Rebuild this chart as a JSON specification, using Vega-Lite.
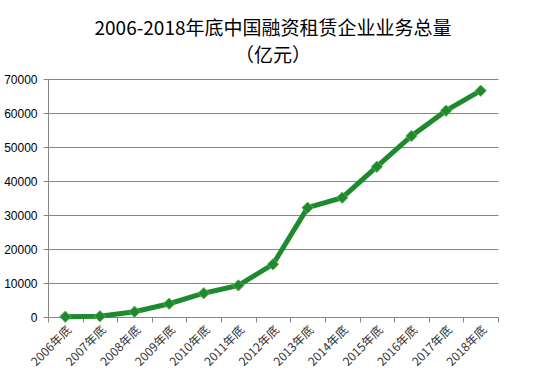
{
  "$schema": "https://vega.github.io/schema/vega-lite/v6.json",
  "width": 450,
  "height": 238,
  "autosize": "none",
  "padding": {"left": 48, "top": 79, "right": 43, "bottom": 64},
  "background": "white",
  "title": {
    "text": ["2006-2018年底中国融资租赁企业业务总量", "（亿元）"],
    "font": "Noto Sans CJK SC",
    "fontSize": 19,
    "fontWeight": "normal",
    "color": "#000000",
    "lineHeight": 27,
    "anchor": "middle",
    "offset": 7
  },
  "data": {
    "values": [
      {"year": "2006年底", "value": 80},
      {"year": "2007年底", "value": 240},
      {"year": "2008年底", "value": 1550},
      {"year": "2009年底", "value": 3900},
      {"year": "2010年底", "value": 7000},
      {"year": "2011年底", "value": 9300},
      {"year": "2012年底", "value": 15500},
      {"year": "2013年底", "value": 32150},
      {"year": "2014年底", "value": 35090},
      {"year": "2015年底", "value": 44200},
      {"year": "2016年底", "value": 53240},
      {"year": "2017年底", "value": 60680},
      {"year": "2018年底", "value": 66560}
    ]
  },
  "encoding": {
    "x": {
      "field": "year",
      "type": "nominal",
      "sort": null,
      "scale": {"type": "band", "paddingInner": 0, "paddingOuter": 0},
      "axis": {
        "title": null,
        "labelAngle": -45,
        "labelFont": "Noto Sans CJK SC",
        "labelFontSize": 12,
        "labelColor": "#333333",
        "tickBand": "extent",
        "tickColor": "#868686",
        "tickSize": 5,
        "domainColor": "#868686",
        "labelPadding": 2,
        "grid": false
      }
    },
    "y": {
      "field": "value",
      "type": "quantitative",
      "scale": {"domain": [0, 70000], "nice": false},
      "axis": {
        "title": null,
        "values": [0, 10000, 20000, 30000, 40000, 50000, 60000, 70000],
        "format": "d",
        "labelFont": "Liberation Sans",
        "labelFontSize": 12,
        "labelColor": "#000000",
        "labelPadding": 6,
        "tickColor": "#868686",
        "tickSize": 5,
        "domainColor": "#868686",
        "gridColor": "#868686",
        "gridOpacity": 1
      }
    }
  },
  "layer": [
    {
      "mark": {"type": "line", "color": "#1E8A2E", "strokeWidth": 5}
    },
    {
      "mark": {"type": "point", "shape": "diamond", "filled": true, "size": 130, "color": "#1E8A2E", "stroke": "#6DB35A", "strokeWidth": 0.8, "opacity": 1}
    }
  ],
  "config": {
    "view": {"stroke": null}
  }
}
